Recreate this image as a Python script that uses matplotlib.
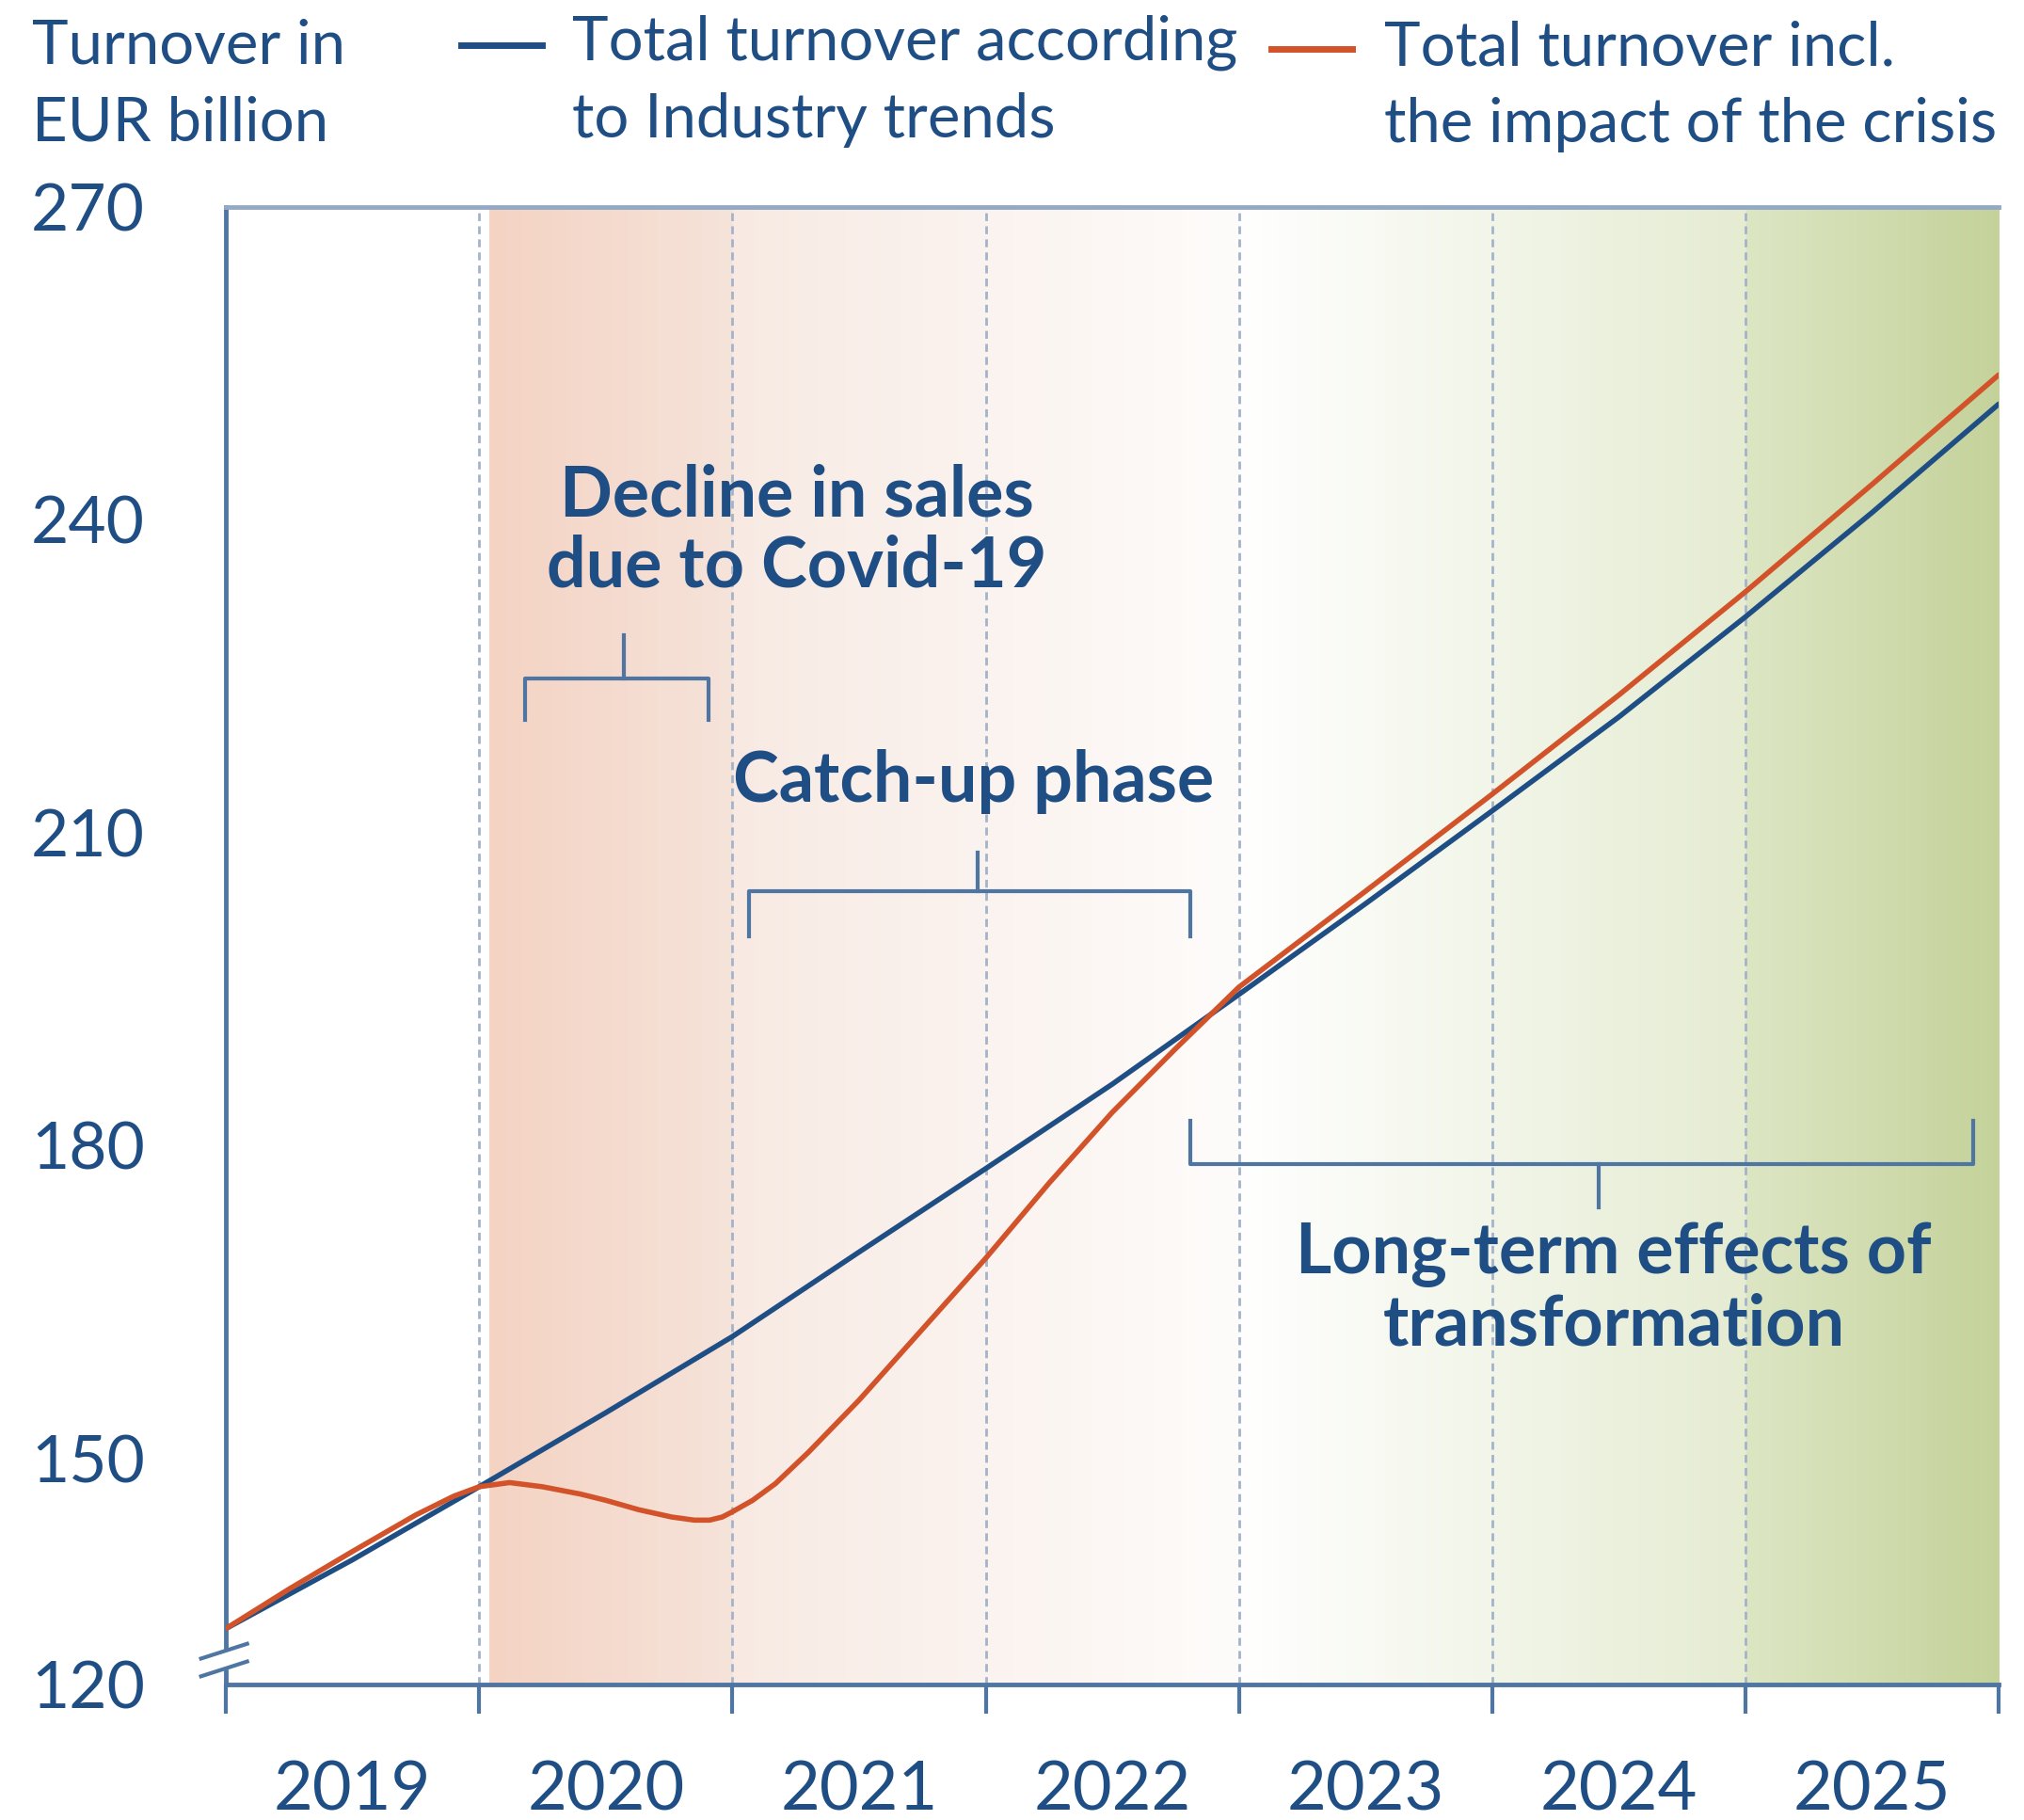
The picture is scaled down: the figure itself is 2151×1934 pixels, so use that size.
import numpy as np
import matplotlib.pyplot as plt
from matplotlib.colors import to_rgb

plt.rcParams['font.family'] = ['Lato', 'DejaVu Sans']

# Daten (Achse: Jahre ab Anfang 2019, Werte in Mrd. EUR)
years = ['2019', '2020', '2021', '2022', '2023', '2024', '2025']
y_ticks = [150, 180, 210, 240, 270]
y_floor = 128.35        # position of the broken "120" tick

trend_x = [0, 0.5, 1, 1.5, 2, 2.5, 3, 3.5, 4, 4.5, 5, 5.5, 6, 6.5, 7]
trend_y = [133.7, 140.3, 147.3, 154.4, 161.7, 169.8, 177.8, 185.9, 194.5,
           203.2, 212.1, 221.1, 230.7, 240.7, 251.1]

crisis_x = [0, 0.25, 0.5, 0.75, 0.9, 1.0, 1.12, 1.25, 1.4, 1.5, 1.63, 1.76,
            1.85, 1.91, 1.96, 2.0, 2.08, 2.17, 2.3, 2.5, 2.75, 3.0, 3.25,
            3.5, 3.75, 4.0, 4.5, 5.0, 5.5, 6.0, 6.5, 7.0]
crisis_y = [133.7, 137.5, 141.1, 144.6, 146.4, 147.3, 147.7, 147.3, 146.6,
            146.0, 145.1, 144.4, 144.1, 144.1, 144.4, 144.9, 146.0, 147.6,
            150.6, 155.6, 162.4, 169.2, 176.4, 183.2, 189.3, 195.2, 204.4,
            213.7, 223.2, 233.1, 243.4, 253.9]

blue = '#1f4e85'
orange = '#d2532a'
spine_c = '#4f76a3'
grid_c = '#a3b3c9'

fig = plt.figure(figsize=(21.51, 19.34), dpi=100)
ax = fig.add_axes([0.1116, 0.0745, 0.8759, 0.8118])

# Hintergrund-Verlauf
xs = np.linspace(0, 7, 1400)
img = np.ones((1, len(xs), 3))
segs = [(1.04, 2.0, '#f4d3c3', '#f6e3da'),
        (2.0, 4.0, '#f8eae3', '#fefcfb'),
        (4.0, 6.0, '#ffffff', '#e5ecd2'),
        (6.0, 7.0, '#dde6c4', '#c4d29a')]
for a, b, c0, c1 in segs:
    m = (xs >= a) & (xs <= b)
    t = (xs[m] - a) / (b - a)
    img[0, m, :] = np.outer(1 - t, to_rgb(c0)) + np.outer(t, to_rgb(c1))
ax.imshow(img, extent=[0, 7, y_floor, 270], aspect='auto', zorder=0)

for i in range(1, 7):
    ax.axvline(i, color=grid_c, lw=2, ls=(0, (3, 2)), zorder=1)

ax.plot(trend_x, trend_y, color=blue, lw=4, zorder=3, solid_capstyle='round')
ax.plot(crisis_x, crisis_y, color=orange, lw=4, zorder=4, solid_capstyle='round')

ax.set_xlim(0, 7)
ax.set_ylim(y_floor, 270)

ax.set_yticks([y_floor] + y_ticks)
ax.set_yticklabels(['120'] + [str(v) for v in y_ticks])
ax.tick_params(axis='y', length=0, pad=62, labelsize=50, labelcolor=blue)

ax.set_xticks(range(8))
ax.set_xticklabels([''] * 8)
ax.set_xticks(np.arange(0.5, 7, 1), minor=True)
ax.set_xticklabels(years, minor=True)
ax.tick_params(axis='x', which='major', length=22, width=3, color=spine_c)
ax.tick_params(axis='x', which='minor', length=0, pad=58, labelsize=52,
               labelcolor=blue)

for s in ['left', 'bottom']:
    ax.spines[s].set_color(spine_c)
    ax.spines[s].set_linewidth(3.5)
ax.spines['top'].set_color('#94a9c4')
ax.spines['top'].set_linewidth(3.5)
ax.spines['right'].set_visible(False)

# Achsenbruch
for yb in [0.0105, 0.0225]:
    ax.plot([-0.014, 0.012], [yb - 0.005, yb + 0.005], transform=ax.transAxes,
            color=spine_c, lw=3, clip_on=False, zorder=6)
ax.plot([0, 0], [0.013, 0.020], transform=ax.transAxes, color='white',
        lw=6, clip_on=False, zorder=5)


def bracket(x0, x1, y, tip, xm, ymid):
    ax.plot([x0, x0, x1, x1], [tip, y, y, tip], color=spine_c, lw=3, zorder=5)
    ax.plot([xm, xm], [y, ymid], color=spine_c, lw=3, zorder=5)


bracket(1.183, 1.907, 224.8, 220.8, 1.571, 228.9)
bracket(2.065, 3.809, 204.4, 200.1, 2.968, 208.1)
bracket(3.809, 6.90, 178.2, 182.4, 5.42, 174.1)

ann = dict(color=blue, fontsize=53, fontweight='bold', ha='center',
           va='center', linespacing=1.1, zorder=6)
ax.text(2.254, 238.9, 'Decline in sales\ndue to Covid-19', **ann)
ax.text(2.953, 214.9, 'Catch-up phase', **ann)
ax.text(5.48, 166.2, 'Long-term effects of\ntransformation', **ann)

# Legende und Einheit
leg = dict(color=blue, fontsize=47, va='top', ha='left', linespacing=1.48)
fig.text(0.0159, 0.990, 'Turnover in\nEUR billion', **leg)
fig.add_artist(plt.Line2D([0.228, 0.268], [0.975, 0.975], color=blue, lw=5))
fig.text(0.2826, 0.992, 'Total turnover according\nto Industry trends', **leg)
fig.add_artist(plt.Line2D([0.628, 0.668], [0.973, 0.973], color=orange, lw=5))
fig.text(0.6838, 0.989, 'Total turnover incl.\nthe impact of the crisis', **leg)

fig.savefig('out.png', dpi=100)
